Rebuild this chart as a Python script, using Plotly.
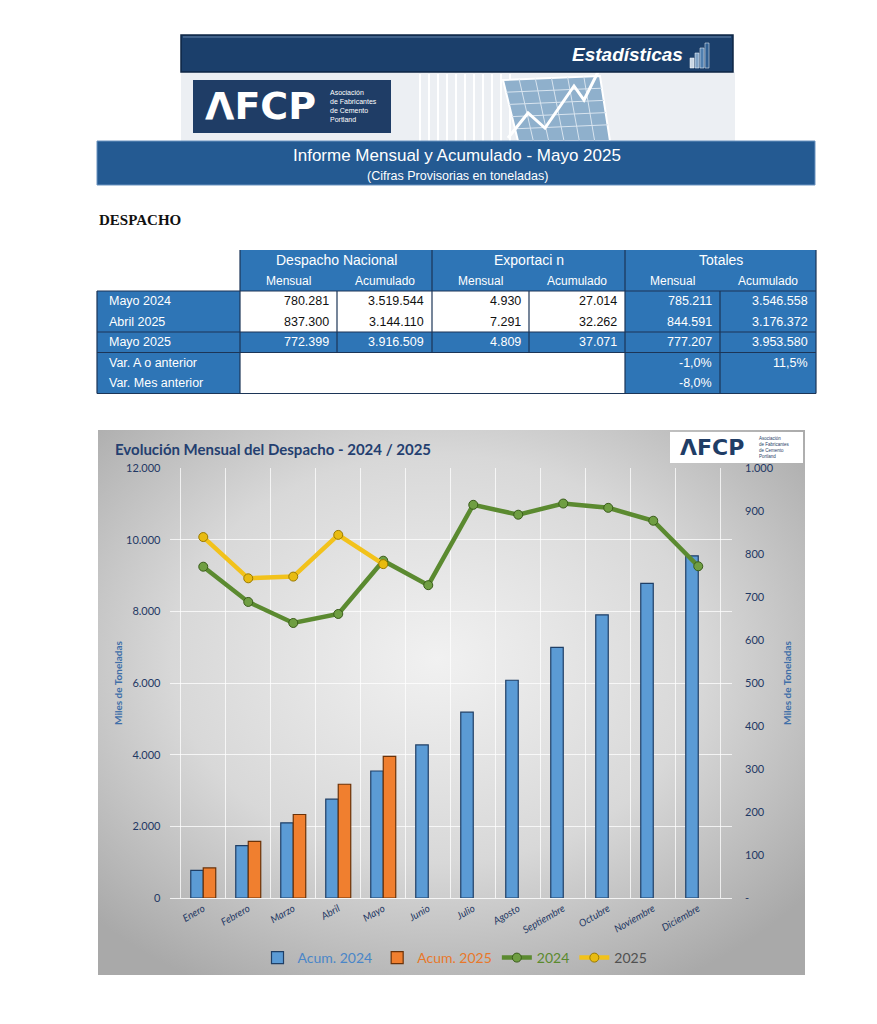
import base64
import plotly.graph_objects as go

# ---------------- data ----------------
months = ["Enero", "Febrero", "Marzo", "Abril", "Mayo", "Junio", "Julio",
          "Agosto", "Septiembre", "Octubre", "Noviembre", "Diciembre"]
acum_2024 = [771, 1460, 2100, 2761, 3546, 4274, 5189, 6081, 6999, 7907, 8785, 9557]
acum_2025 = [840, 1584, 2332, 3176, 3954, None, None, None, None, None, None, None]
mensual_2024 = [771, 689, 640, 661, 785, 728, 915, 892, 918, 908, 878, 772]
mensual_2025 = [840, 744, 748, 845, 777, None, None, None, None, None, None, None]

left_ticks = [0, 2000, 4000, 6000, 8000, 10000, 12000]
right_ticks = [0, 100, 200, 300, 400, 500, 600, 700, 800, 900, 1000]

table_groups = ["Despacho Nacional", "Exportaci n", "Totales"]
table_subheads = ["Mensual", "Acumulado", "Mensual", "Acumulado", "Mensual", "Acumulado"]
row_labels = ["Mayo 2024", "Abril 2025", "Mayo 2025", "Var. A o anterior", "Var. Mes anterior"]
row_mayo_2024 = [780281, 3519544, 4930, 27014, 785211, 3546558]
row_abril_2025 = [837300, 3144110, 7291, 32262, 844591, 3176372]
row_mayo_2025 = [772399, 3916509, 4809, 37071, 777207, 3953580]
var_anio = [-1.0, 11.5]
var_mes = [-8.0, None]

W, H = 877, 1024


def X(p):
    return p / W


def Y(p):
    return 1 - p / H


def fmt_int(v):
    return f"{v:,}".replace(",", ".")


def fmt_pct(v):
    return f"{v:.1f}".replace(".", ",") + "%"


NAVY = "#1f3864"
TBL_BLUE = "#2e75b6"
TBL_LINE = "#1c3557"
NARROW = "Liberation Sans Narrow, Arial Narrow, Liberation Sans, Arial"
SANS = "Liberation Sans, Arial"
CAL = "Lato, Open Sans, sans-serif"

fig = go.Figure()

# ---------------- chart traces ----------------
fig.add_trace(go.Bar(
    x=months, y=acum_2024, name="<span style='color:#4a86c8'>Acum. 2024</span>",
    marker=dict(color="#5b9bd5", line=dict(color="#1f3f66", width=1.2)), yaxis="y"))
fig.add_trace(go.Bar(
    x=months, y=acum_2025, name="<span style='color:#e8782a'>Acum. 2025</span>",
    marker=dict(color="#f07f2f", line=dict(color="#6b3208", width=1.2)), yaxis="y"))
fig.add_trace(go.Scatter(
    x=months, y=mensual_2024, name="<span style='color:#5a8a2e'>2024</span>",
    mode="lines+markers", line=dict(color="#5b8a30", width=4.5),
    marker=dict(size=9, color="#6f9e42", line=dict(color="#3a5c1b", width=1)),
    yaxis="y2"))
fig.add_trace(go.Scatter(
    x=months, y=mensual_2025, name="<span style='color:#505050'>2025</span>",
    mode="lines+markers", line=dict(color="#f2c21b", width=4.5),
    marker=dict(size=9, color="#e8bb10", line=dict(color="#9a7a00", width=1)),
    yaxis="y2"))

# ---------------- background gradient for chart panel ----------------
pw, ph = 707, 545
svg = (f'<svg xmlns="http://www.w3.org/2000/svg" width="{pw}" height="{ph}">'
       '<defs><radialGradient id="g" cx="48%" cy="42%" r="68%">'
       '<stop offset="0" stop-color="#f1f1f1"/>'
       '<stop offset="0.55" stop-color="#d8d8d8"/>'
       '<stop offset="1" stop-color="#a9a9a9"/>'
       '</radialGradient></defs>'
       f'<rect width="{pw}" height="{ph}" fill="url(#g)"/></svg>')
src = "data:image/svg+xml;base64," + base64.b64encode(svg.encode()).decode()

images = [dict(source=src, xref="paper", yref="paper", x=X(98), y=Y(430),
               sizex=pw / W, sizey=ph / H, xanchor="left", yanchor="top",
               sizing="stretch", layer="below")]

shapes = []
annotations = []


def rect(x0, y0, x1, y1, fill, line_color=None, lw=0, layer="above"):
    shapes.append(dict(type="rect", xref="paper", yref="paper",
                       x0=X(x0), x1=X(x1), y0=Y(y1), y1=Y(y0),
                       fillcolor=fill, layer=layer,
                       line=dict(color=line_color or fill, width=lw)))


def hline(x0, x1, y, color, w=1.2):
    shapes.append(dict(type="line", xref="paper", yref="paper",
                       x0=X(x0), x1=X(x1), y0=Y(y), y1=Y(y),
                       line=dict(color=color, width=w)))


def vline(x, y0, y1, color, w=1.2):
    shapes.append(dict(type="line", xref="paper", yref="paper",
                       x0=X(x), x1=X(x), y0=Y(y0), y1=Y(y1),
                       line=dict(color=color, width=w)))


def text(x, y, s, size, color, family=SANS, xanchor="left", yanchor="middle",
         weight="normal", style="normal", textangle=0, align="left"):
    annotations.append(dict(x=X(x), y=Y(y), xref="paper", yref="paper", text=s,
                            showarrow=False, xanchor=xanchor, yanchor=yanchor,
                            textangle=textangle, align=align,
                            font=dict(size=size, color=color, family=family,
                                      weight=weight, style=style)))


# ---------------- header banner ----------------
rect(181, 72, 735, 141, "#eceff3")
for sx in range(420, 512, 9):
    vline(sx, 74, 141, "#ffffff", 2)
shapes.append(dict(type="path", xref="paper", yref="paper",
                   path=f"M {X(503)},{Y(80)} L {X(600)},{Y(76)} L {X(610)},{Y(141)} L {X(518)},{Y(141)} Z",
                   fillcolor="#8fb0cc", line=dict(color="#ffffff", width=2)))
for i in range(1, 6):
    t = i / 6
    xa = 503 + (600 - 503) * t
    xb = 518 + (610 - 518) * t
    shapes.append(dict(type="line", xref="paper", yref="paper", x0=X(xa), y0=Y(80 - 4 * t),
                       x1=X(xb), y1=Y(141), line=dict(color="#d8e4ef", width=1)))
for i in range(1, 5):
    t = i / 5
    ya = 80 + (141 - 80) * t
    xl = 503 + (518 - 503) * t
    xr = 600 + (610 - 600) * t
    shapes.append(dict(type="line", xref="paper", yref="paper", x0=X(xl), y0=Y(ya),
                       x1=X(xr), y1=Y(ya - 4), line=dict(color="#d8e4ef", width=1)))
shapes.append(dict(type="path", xref="paper", yref="paper",
                   path=(f"M {X(508)},{Y(138)} L {X(528)},{Y(113)} L {X(545)},{Y(128)} "
                         f"L {X(574)},{Y(86)} L {X(584)},{Y(100)} L {X(600)},{Y(68)}"),
                   line=dict(color="#ffffff", width=3)))
rect(181, 35, 733, 72, "#1b3f6b", "#0e2644", 1.5)
hline(183, 731, 37, "#4f6f95", 1.5)
text(685, 54, "Estadísticas", 19, "#ffffff", SANS, "right", weight="bold", style="italic")
for i, (bh, c) in enumerate(zip([10, 15, 20, 25], ["#c9d6e4", "#7fa2c6", "#4f7fb0", "#2f5f93"])):
    rect(690 + i * 5, 68 - bh, 694 + i * 5, 68, c, "#ffffff", 0.5)
rect(193, 80, 391, 133, "#1f3d66")
text(260, 106, "ΛFCP", 38, "#ffffff", "DejaVu Sans", "center", weight="bold")
text(328, 106, "Asociación<br>de Fabricantes<br>de Cemento<br>Portland", 7, "#ffffff", SANS)

rect(97, 141, 815, 185, "#245a92", "#6a93c0", 1)
text(457, 155, "Informe Mensual y Acumulado - Mayo 2025", 17, "#ffffff", SANS, "center")
text(457, 176, "(Cifras Provisorias en toneladas)", 12.5, "#ffffff", SANS, "center")

text(97, 220, "DESPACHO", 15, "#111111", "Liberation Serif, Times New Roman", weight="bold")

# ---------------- table ----------------
cx = [97, 240, 337, 432, 529, 625, 720, 816]
ry = [250, 270, 291, 311.5, 332, 352.5, 373, 393.5]

rect(240, 250, 816, 291, TBL_BLUE)
rect(97, 291, 240, 393.5, TBL_BLUE)
rect(240, 291, 625, 332, "#ffffff")
rect(240, 332, 625, 352.5, TBL_BLUE)
rect(240, 352.5, 625, 393.5, "#ffffff")
rect(625, 291, 816, 393.5, TBL_BLUE)

for yy in [291, 332, 352.5, 393.5]:
    hline(97, 816, yy, TBL_LINE)
vline(97, 291, 393.5, TBL_LINE)
vline(816, 250, 393.5, TBL_LINE)
vline(240, 250, 393.5, TBL_LINE)
vline(625, 250, 393.5, TBL_LINE)
vline(432, 250, 352.5, TBL_LINE)
for xx in [337, 529]:
    vline(xx, 291, 352.5, TBL_LINE)
vline(720, 291, 393.5, TBL_LINE)

for g, name in enumerate(table_groups):
    text((cx[1 + 2 * g] + cx[3 + 2 * g]) / 2, 259.5, name, 14, "#ffffff", NARROW, "center")
for c, name in enumerate(table_subheads):
    text((cx[1 + c] + cx[2 + c]) / 2, 280.5, name, 12, "#ffffff", NARROW, "center")
for r, name in enumerate(row_labels):
    text(107, (ry[2 + r] + ry[3 + r]) / 2, name, 12.5, "#ffffff", NARROW)

for r, vals in enumerate([row_mayo_2024, row_abril_2025, row_mayo_2025]):
    for c, v in enumerate(vals):
        col = "#ffffff" if (r == 2 or c >= 4) else "#111111"
        text(cx[2 + c] - 6, (ry[2 + r] + ry[3 + r]) / 2, fmt_int(v), 12.5, col, NARROW, "right")
for r, vals in enumerate([var_anio, var_mes]):
    for c, v in enumerate(vals):
        if v is None:
            continue
        text(cx[6 + c] - 6, (ry[5 + r] + ry[6 + r]) / 2, fmt_pct(v), 12.5, "#ffffff", NARROW, "right")

# ---------------- chart decorations ----------------
text(113, 449, "Evolución Mensual del Despacho - 2024 / 2025", 15, "#243f70", CAL,
     weight="bold")
rect(670, 432, 803, 463, "#ffffff")
text(712, 447, "ΛFCP", 22, "#1f3d66", "DejaVu Sans", "center", weight="bold")
text(757, 447, "Asociación<br>de Fabricantes<br>de Cemento<br>Portland", 4.5, "#1f3d66", SANS)
text(118, 683, "Miles de Toneladas", 10, "#3f6fa8", CAL, "center", weight="bold", textangle=-90)
text(787, 683, "Miles de Toneladas", 10, "#3f6fa8", CAL, "center", weight="bold", textangle=-90)

fig.update_layout(
    width=W, height=H, autosize=False,
    margin=dict(l=0, r=0, t=0, b=0, pad=0),
    paper_bgcolor="#ffffff", plot_bgcolor="rgba(0,0,0,0)",
    barmode="group", bargap=0.445, bargroupgap=0.0,
    images=images, shapes=shapes, annotations=annotations,
    showlegend=True,
    legend=dict(orientation="h", x=X(455), y=Y(958), xanchor="center", yanchor="middle",
                bgcolor="rgba(0,0,0,0)", font=dict(size=14, family=CAL),
                itemwidth=30, tracegroupgap=0),
    xaxis=dict(domain=[X(169.5), X(732)], type="category", tickson="boundaries",
               showgrid=True, gridcolor="rgba(255,255,255,0.75)", gridwidth=1,
               tickangle=-30, ticks="", showline=True, linecolor="rgba(255,255,255,0.8)",
               automargin=False,
               tickfont=dict(size=10, color=NAVY, family=CAL, style="italic")),
    yaxis=dict(domain=[Y(898), Y(468.3)], range=[0, 12000], tickvals=left_ticks,
               ticktext=[fmt_int(v) for v in left_ticks], showgrid=True,
               gridcolor="rgba(255,255,255,0.75)", zeroline=False, ticks="",
               ticklabelstandoff=8, automargin=False,
               tickfont=dict(size=11, color=NAVY, family=CAL)),
    yaxis2=dict(overlaying="y", side="right", range=[0, 1000], tickvals=right_ticks,
                ticktext=["-"] + [fmt_int(v) for v in right_ticks[1:]], showgrid=False,
                zeroline=False, ticks="", ticklabelstandoff=12, automargin=False,
                tickfont=dict(size=11, color=NAVY, family=CAL)),
    hovermode=False,
)

fig.write_html("out.html", config={"displayModeBar": False},
               post_script="document.body.style.margin='0';document.documentElement.style.overflow='hidden';")
